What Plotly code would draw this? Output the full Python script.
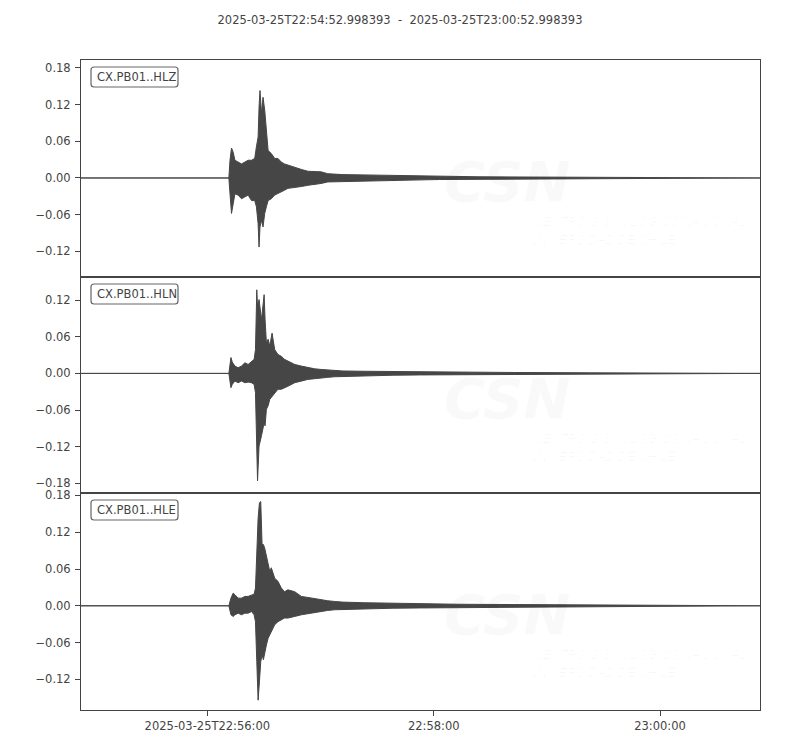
import plotly.graph_objects as go
import pandas as pd

start = pd.Timestamp("2025-03-25 22:54:52.998393")
end = pd.Timestamp("2025-03-25 23:00:52.998393")
title_text = "2025-03-25T22:54:52.998393\u00a0\u00a0-\u00a0\u00a02025-03-25T23:00:52.998393"

channels = ["CX.PB01..HLZ", "CX.PB01..HLN", "CX.PB01..HLE"]

# waveform envelope (max / min), seconds after start
hlz_t = [0, 78.4, 79.0, 79.8, 80.7, 81.6, 83.3, 85.1, 86.9, 88.6, 90.4, 92.1, 93.0, 93.9,
         94.4, 94.9, 95.7, 96.5, 97.4, 98.3, 99.2, 100.9, 102.7, 104.4, 106.2, 107.9, 109.7,
         113.3, 116.8, 120.3, 123.8, 127.3, 130.8, 134.4, 138.8, 150, 160, 175, 190, 210,
         240, 270, 300, 360]
hlz_hi = [0, 0, 0.029, 0.049, 0.042, 0.029, 0.026, 0.023, 0.026, 0.029, 0.029, 0.032, 0.051,
          0.067, 0.116, 0.143, 0.105, 0.132, 0.111, 0.072, 0.045, 0.040, 0.032, 0.032, 0.026,
          0.023, 0.021, 0.017, 0.014, 0.011, 0.010, 0.010, 0.007, 0.006, 0.0055, 0.005, 0.0045,
          0.0035, 0.0025, 0.002, 0.0015, 0.001, 0.0008, 0]
hlz_lo = [0, 0, -0.026, -0.058, -0.042, -0.026, -0.028, -0.034, -0.031, -0.028, -0.037, -0.037,
          -0.047, -0.075, -0.113, -0.080, -0.069, -0.080, -0.058, -0.047, -0.037, -0.034, -0.028,
          -0.026, -0.023, -0.020, -0.017, -0.016, -0.014, -0.012, -0.010, -0.009, -0.0065,
          -0.0055, -0.005, -0.005, -0.0045, -0.0035, -0.0025, -0.002, -0.0015, -0.001, -0.0008, 0]

hln_t = [0, 78.4, 79.5, 80.2, 81.6, 83.3, 85.1, 86.9, 88.6, 90.4, 91.8, 92.5, 93.2, 93.6, 94.4,
         95.7, 97.1, 97.6, 98.3, 99.2, 100.1, 101.3, 102.7, 104.4, 106.2, 107.9, 109.7, 113.3,
         116.8, 120.3, 123.8, 127.3, 130.8, 134.4, 138.8, 150, 165, 180, 200, 230, 270, 300, 360]
hln_hi = [0, 0, 0.026, 0.0185, 0.012, 0.0093, 0.012, 0.0174, 0.0147, 0.020, 0.023, 0.039, 0.137,
          0.109, 0.121, 0.088, 0.129, 0.088, 0.050, 0.056, 0.045, 0.066, 0.039, 0.031, 0.028,
          0.023, 0.020, 0.0147, 0.012, 0.0093, 0.0076, 0.0065, 0.0055, 0.005, 0.004, 0.0035,
          0.003, 0.0025, 0.002, 0.0015, 0.001, 0.0008, 0]
hln_lo = [0, 0, -0.0234, -0.018, -0.0125, -0.0153, -0.0125, -0.0153, -0.0142, -0.0153, -0.018,
          -0.0316, -0.113, -0.176, -0.119, -0.102, -0.081, -0.086, -0.059, -0.053, -0.0425,
          -0.037, -0.032, -0.026, -0.026, -0.023, -0.021, -0.0153, -0.0125, -0.0098, -0.0087,
          -0.0071, -0.0065, -0.0055, -0.0044, -0.004, -0.003, -0.0025, -0.002, -0.0015, -0.001,
          -0.0008, 0]

hle_t = [0, 78.4, 79.5, 80.7, 81.6, 83.3, 85.1, 86.9, 88.6, 90.4, 91.8, 92.5, 93.2, 93.9, 94.6,
         95.3, 96.0, 96.7, 97.4, 98.3, 99.2, 100.1, 100.9, 101.8, 102.7, 104.4, 106.2, 107.9,
         109.7, 113.3, 116.8, 120.3, 123.8, 127.3, 130.8, 134.4, 138.8, 150, 165, 180, 200,
         230, 260, 300, 360]
hle_hi = [0, 0, 0.0125, 0.0207, 0.018, 0.0125, 0.0125, 0.0153, 0.0153, 0.018, 0.019, 0.029, 0.094,
          0.143, 0.168, 0.170, 0.100, 0.100, 0.094, 0.083, 0.067, 0.056, 0.062, 0.051, 0.045,
          0.040, 0.029, 0.023, 0.026, 0.023, 0.0153, 0.0136, 0.0114, 0.0098, 0.0082, 0.0071,
          0.006, 0.005, 0.004, 0.0035, 0.0025, 0.002, 0.0015, 0.001, 0]
hle_lo = [0, 0, -0.0147, -0.0174, -0.0147, -0.012, -0.0147, -0.012, -0.012, -0.0093, -0.0147,
          -0.026, -0.091, -0.154, -0.124, -0.091, -0.080, -0.088, -0.075, -0.064, -0.053, -0.047,
          -0.042, -0.037, -0.031, -0.026, -0.023, -0.020, -0.020, -0.0174, -0.0147, -0.012,
          -0.0104, -0.0093, -0.0076, -0.0065, -0.0055, -0.005, -0.004, -0.0035, -0.0025, -0.002,
          -0.0015, -0.001, 0]

y_ranges = [[-0.162, 0.193], [-0.196, 0.158], [-0.170, 0.184]]

tick_times = ["2025-03-25 22:56:00", "2025-03-25 22:58:00", "2025-03-25 23:00:00"]
tick_labels = ["2025-03-25T22:56:00", "22:58:00", "23:00:00"]

traces = [(hlz_t, hlz_hi, hlz_lo), (hln_t, hln_hi, hln_lo), (hle_t, hle_hi, hle_lo)]

W, H = 800, 750
# the page adds an 8px body margin, so margins are trimmed to land the frame at 80..760 / 60..710
ml, mr, mt, mb = 72.5, 48, 52, 48
ink = "#444444"
wave = "#464646"
mark = "rgba(0,0,0,0.022)"
mark_txt = "rgba(0,0,0,0.03)"
font = "DejaVu Sans"

fig = go.Figure()
plot_h = H - mt - mb
plot_w = W - ml - mr
edges = [0, 217, 433, 650]  # panel borders, px below the top of the plot area
for i, (t, hi, lo) in enumerate(traces):
    xs = start + pd.to_timedelta(t + t[::-1], unit="s")
    fig.add_trace(go.Scatter(
        x=xs, y=hi + lo[::-1],
        mode="lines", fill="toself", fillcolor=wave,
        line=dict(color=wave, width=1),
        hoverinfo="skip", showlegend=False,
        xaxis="x" if i == 0 else f"x{i + 1}",
        yaxis="y" if i == 0 else f"y{i + 1}",
    ))

layout = dict(
    width=W, height=H,
    margin=dict(l=ml, r=mr, t=mt, b=mb),
    paper_bgcolor="white", plot_bgcolor="white",
    font=dict(family=font, size=11.5, color=ink),
    title=dict(text=title_text, x=392 / W, xref="container", xanchor="center",
               y=1 - 12 / H, yanchor="middle", font=dict(size=11.5, color=ink)),
    showlegend=False,
)

shapes = []
annotations = []
for i in range(3):
    sx = "" if i == 0 else str(i + 1)
    top = 1 - edges[i] / plot_h
    bot = 1 - edges[i + 1] / plot_h
    last = i == 2
    layout[f"xaxis{sx}"] = dict(
        domain=[0, 1], anchor=f"y{sx}", range=[start, end],
        matches=None if i == 0 else "x",
        showgrid=False, zeroline=False,
        showline=True, mirror=True, linecolor=ink, linewidth=1,
        ticks="outside" if last else "", ticklen=5, tickcolor=ink, tickwidth=1,
        showticklabels=last,
        tickvals=tick_times, ticktext=tick_labels,
        tickfont=dict(size=11.5, color=ink),
    )
    layout[f"yaxis{sx}"] = dict(
        domain=[bot, top], anchor=f"x{sx}", range=y_ranges[i],
        showgrid=False, zeroline=False,
        showline=True, mirror=True, linecolor=ink, linewidth=1,
        ticks="outside", ticklen=5, tickcolor=ink, tickwidth=1,
        tick0=0, dtick=0.06, tickformat=".2f",
        ticklabelstandoff=2,
        tickfont=dict(size=11.5, color=ink),
    )
    # rounded label box
    shapes.append(dict(
        type="path", xref=f"x{sx} domain", yref=f"y{sx} domain",
        xsizemode="pixel", ysizemode="pixel", xanchor=0, yanchor=1,
        path="M 13,-7 L 94,-7 Q 97,-7 97,-10 L 97,-24 Q 97,-27 94,-27 L 13,-27 "
             "Q 10,-27 10,-24 L 10,-10 Q 10,-7 13,-7 Z",
        line=dict(color="#666666", width=1.2), fillcolor="white", layer="above",
    ))
    annotations.append(dict(
        text=channels[i], xref=f"x{sx} domain", yref=f"y{sx} domain",
        x=0, y=1, xanchor="left", yanchor="middle", xshift=14, yshift=-17,
        showarrow=False, font=dict(size=11.5, color=ink, family=font),
    ))
    # faint CSN watermark
    annotations.append(dict(
        text="<b><i>CSN</i></b>", xref=f"x{sx} domain", yref=f"y{sx} domain",
        x=(507 - 80.5) / plot_w, y=1, xanchor="center", yanchor="middle", yshift=-121,
        showarrow=False, font=dict(size=56, color=mark, family=font),
    ))
    annotations.append(dict(
        text="<i>CENTRO SISMOLÓGICO NACIONAL</i>", xref=f"x{sx} domain", yref=f"y{sx} domain",
        x=(532 - 80.5) / plot_w, y=1, xanchor="left", yanchor="middle", yshift=-161,
        showarrow=False, font=dict(size=12.5, color=mark_txt, family="Liberation Sans"),
    ))
    annotations.append(dict(
        text="<i>UNIVERSIDAD DE CHILE</i>", xref=f"x{sx} domain", yref=f"y{sx} domain",
        x=(527 - 80.5) / plot_w, y=1, xanchor="left", yanchor="middle", yshift=-180,
        showarrow=False, font=dict(size=12.5, color=mark_txt, family="Liberation Sans"),
    ))

layout["shapes"] = shapes
layout["annotations"] = annotations
fig.update_layout(**layout)

fig.write_html("out.html")
